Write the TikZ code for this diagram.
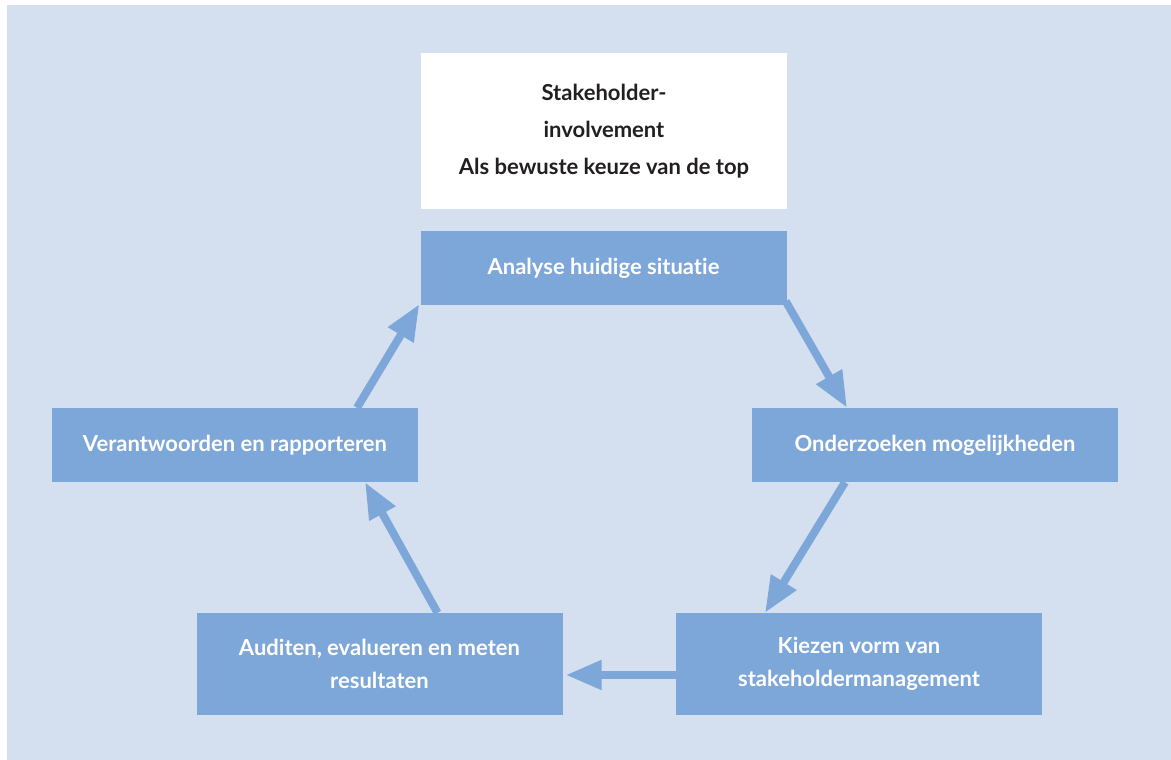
\documentclass[tikz,border=0pt]{standalone}
\usepackage{fontspec}
\setmainfont{Lato}[Ligatures=NoCommon]
\usetikzlibrary{arrows.meta}
\definecolor{bgblue}{RGB}{212,223,240}
\definecolor{boxblue}{RGB}{125,167,217}
\definecolor{darktext}{RGB}{35,31,32}

\begin{document}
\begin{tikzpicture}[x=1pt,y=1pt]
        \tikzset{step box/.style = {shape=rectangle,fill=boxblue,text=white,align=center,
                minimum width=366pt,minimum height=74pt,inner sep=0pt,
                font=\bfseries\fontsize{22}{33}\selectfont}}
        \tikzset{top box/.style = {shape=rectangle,fill=white,text=darktext,align=center,
                minimum width=366pt,minimum height=156pt,inner sep=0pt,
                font=\bfseries\fontsize{22}{37}\selectfont}}
        \tikzset{flow/.style = {-{Triangle[length=36pt,width=28pt]},line width=8pt,draw=boxblue}}
        % background
        \useasboundingbox (0,0) rectangle (1171,760);
        \fill[bgblue] (7,0) rectangle (1171,755);
        % vertices
        \node[top box]  (top)     at (604,629)   {Stakeholder-\\involvement\\Als bewuste keuze van de top};
        \node[step box] (analyse) at (603.5,492) {Analyse huidige situatie};
        \node[step box] (onderz)  at (935,315)   {Onderzoeken mogelijkheden};
        \node[step box, minimum height=102pt] (kiezen)  at (859,96)   {Kiezen vorm van\\stakeholdermanagement};
        \node[step box, minimum height=102pt] (auditen) at (379.5,96) {Auditen, evalueren en meten\\resultaten};
        \node[step box] (verant)  at (235,315)   {Verantwoorden en rapporteren};
        %edges
        \draw[flow] ([xshift=-1pt,yshift=4pt]analyse.south east) -- ([xshift=-88pt]onderz.north);
        \draw[flow] ([xshift=-90pt]onderz.south) -- ([xshift=-94pt]kiezen.north);
        \draw[flow] ([yshift=-11pt]kiezen.west) -- ([xshift=3pt,yshift=-11pt]auditen.east);
        \draw[flow] ([xshift=58pt]auditen.north) -- ([xshift=130pt]verant.south);
        \draw[flow] ([xshift=122pt]verant.north) -- ([xshift=-1pt,yshift=1pt]analyse.south west);
\end{tikzpicture}
\end{document}
